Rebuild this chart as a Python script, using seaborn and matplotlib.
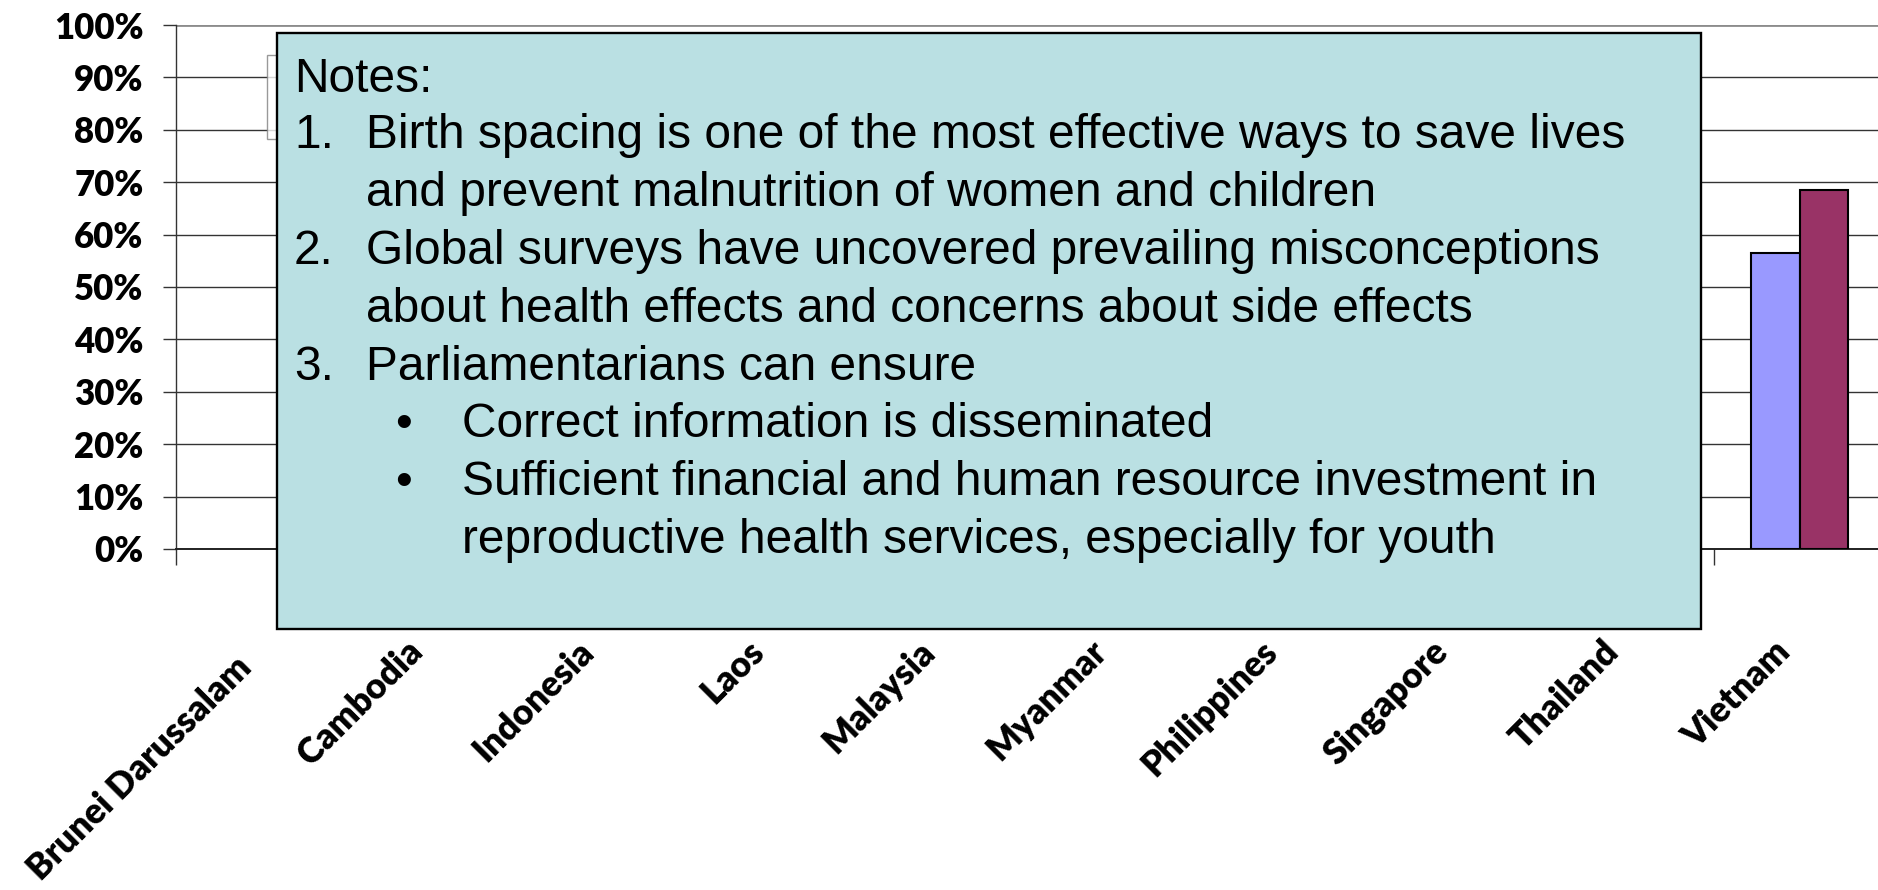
import pandas as pd
import seaborn as sns
import matplotlib.pyplot as plt
from matplotlib.patches import Rectangle
from matplotlib.transforms import ScaledTranslation

# chart data (only Vietnam is visible, the other bars sit behind the notes box)
countries = ['Brunei Darussalam', 'Cambodia', 'Indonesia', 'Laos', 'Malaysia',
             'Myanmar', 'Philippines', 'Singapore', 'Thailand', 'Vietnam']
series_names = ['Series 1', 'Series 2']
series_1 = [None, None, None, None, None, None, None, None, None, 0.565]
series_2 = [None, None, None, None, None, None, None, None, None, 0.686]
y_ticks = [0, 0.1, 0.2, 0.3, 0.4, 0.5, 0.6, 0.7, 0.8, 0.9, 1.0]
y_tick_labels = ['0%', '10%', '20%', '30%', '40%', '50%', '60%', '70%', '80%', '90%', '100%']

# notes box text: (marker, text)
note_numbers = ['', '1.', '', '2.', '', '3.', '•', '•', '']
note_lines = ['Notes:',
              'Birth spacing is one of the most effective ways to save lives',
              'and prevent malnutrition of women and children',
              'Global surveys have uncovered prevailing misconceptions',
              'about health effects and concerns about side effects',
              'Parliamentarians can ensure',
              'Correct information is disseminated',
              'Sufficient financial and human resource investment in',
              'reproductive health services, especially for youth']
note_levels = [0, 1, 1, 1, 1, 1, 2, 2, 2]

colors = ['#9999FF', '#993366']

df = pd.DataFrame({
    'Country': countries * 2,
    'Series': [series_names[0]] * len(countries) + [series_names[1]] * len(countries),
    'Value': pd.array(series_1 + series_2, dtype='Float64').astype(float),
})

W, H = 1878, 890
sns.set_style('white')
plt.rcParams['font.family'] = ['Lato', 'DejaVu Sans']
plt.rcParams['text.color'] = 'black'
plt.rcParams['xtick.color'] = 'black'
plt.rcParams['ytick.color'] = 'black'

fig = plt.figure(figsize=(W / 100, H / 100), dpi=100)
# axes extends a bit past the right edge, like the original slide
ax = fig.add_axes([176 / W, 1 - 549 / H, 1709 / W, 524 / H])

sns.barplot(data=df, x='Country', y='Value', hue='Series', order=countries,
            hue_order=series_names, palette=colors, width=0.57, errorbar=None,
            edgecolor='black', linewidth=1.5, saturation=1, ax=ax, zorder=3)

ax.set_ylim(0, 1)
ax.set_xlim(-0.5, 9.5)
ax.set_xlabel('')
ax.set_ylabel('')

# y axis
ax.set_yticks(y_ticks)
ax.set_yticklabels(y_tick_labels, fontsize=25, fontweight='heavy', color='black')
ax.tick_params(axis='y', direction='out', length=9.4, width=1.0, color='#333333',
               pad=14, left=True)
ax.yaxis.grid(True, color='#333333', linewidth=1.0)
ax.get_ygridlines()[-1].set_color('#8c8c8c')
ax.get_ygridlines()[-1].set_linewidth(2)
ax.set_axisbelow(True)

for side in ['top', 'right']:
    ax.spines[side].set_visible(False)
ax.spines['left'].set_color('#333333')
ax.spines['left'].set_linewidth(1.0)
ax.spines['bottom'].set_color('#222222')
ax.spines['bottom'].set_linewidth(1.4)

# x axis: labels at categories, ticks between categories
ax.set_xticks(range(len(countries)))
ax.set_xticklabels(countries, fontsize=25.5, fontweight='heavy', rotation=45,
                   ha='right', va='center', rotation_mode='anchor', color='black')
ax.tick_params(axis='x', which='major', length=0, pad=70, bottom=True)
ax.set_xticks([i - 0.5 for i in range(len(countries) + 1)], minor=True)
ax.tick_params(axis='x', which='minor', direction='out', length=11.5, width=1.0,
               color='#333333', bottom=True)
for i, lab in enumerate(ax.get_xticklabels()):
    dy = -16 if i == 0 else 0
    lab.set_transform(lab.get_transform()
                      + ScaledTranslation(-15 / 100, dy / 100, fig.dpi_scale_trans))

# legend frame, hidden behind the notes box apart from a sliver
handles, _ = ax.get_legend_handles_labels()
leg = ax.legend(handles, ['', ''], loc='upper left',
                bbox_to_anchor=(267 / W, 1 - 55 / H),
                bbox_transform=fig.transFigure, fontsize=18, frameon=True,
                fancybox=False, borderaxespad=0, handlelength=1.2,
                handleheight=1.2, labelspacing=0.4, borderpad=0.45)
leg.get_frame().set_edgecolor('#808080')
leg.get_frame().set_linewidth(1.0)

# notes box
fig.add_artist(Rectangle((277 / W, 1 - 629 / H), (1701 - 277) / W, (629 - 33) / H,
                         transform=fig.transFigure, facecolor='#BAE0E3',
                         edgecolor='black', linewidth=1.7, zorder=5))

baselines = [92, 148, 206, 264, 322, 380, 437, 495, 553]
marker_x = {0: 294, 1: 294, 2: 395}
text_x = {0: 294, 1: 366, 2: 462}
for num, line, lvl, yb in zip(note_numbers, note_lines, note_levels, baselines):
    if num:
        fig.text(marker_x[lvl] / W, 1 - yb / H, num, fontsize=34.5, color='black',
                 family=['Liberation Sans', 'DejaVu Sans'], va='baseline',
                 ha='left', zorder=6)
    fig.text(text_x[lvl] / W, 1 - yb / H, line, fontsize=34.5, color='black',
             family=['Liberation Sans', 'DejaVu Sans'], va='baseline',
             ha='left', zorder=6)

fig.savefig('out.png', dpi=100, facecolor='white')
